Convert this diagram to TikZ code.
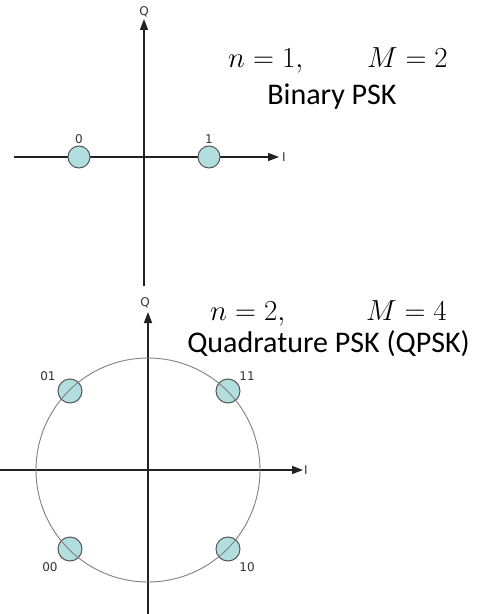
\RequirePackage{fix-cm}
\documentclass[tikz,border=0pt]{standalone}
\usepackage{fontspec}
\setmainfont{Carlito}
\newfontfamily\lblfont{DejaVu Sans}
\usetikzlibrary{arrows.meta}
\definecolor{ptfill}{HTML}{B3DEE0}
\definecolor{ptdraw}{HTML}{555555}
\definecolor{axiscol}{HTML}{222222}
\definecolor{ringcol}{HTML}{808080}
\tikzset{
  axis/.style={draw=axiscol, line width=1.4bp},
  axisarrow/.style={axis, -{Triangle[length=11bp,width=8bp]}},
  pt/.style={circle, fill=ptfill, draw=ptdraw, line width=1bp, inner sep=0pt, minimum size=#1},
  pt/.default=22bp,
  lbl/.style={font=\lblfont\fontsize{12bp}{13bp}\selectfont, text=black!80, inner sep=0pt},
  mathtxt/.style={font=\fontsize{29bp}{32bp}\selectfont, inner sep=0pt},
  titletxt/.style={font=\fontsize{30bp}{34bp}\selectfont, inner sep=0pt},
  ring/.style={draw=ringcol, line width=0.9bp}
}
\begin{document}
\begin{tikzpicture}[x=1bp,y=-1bp]
\useasboundingbox (0,0) rectangle (481,614);
% ---------- Binary PSK ----------
\coordinate (a1w) at (14,157);
\coordinate (a1e) at (279,157);
\coordinate (a1s) at (144,286);
\coordinate (a1n) at (144,19);
\draw[axisarrow] (a1w) -- (a1e);
\draw[axisarrow] (a1s) -- (a1n);
\node[lbl] (q1) at (144,12) {Q};
\node[lbl] (i1) at (284,157) {I};
\node[pt] (b0) at (79,157) {};
\node[pt] (b1) at (209,157) {};
\node[lbl] (l0) at (79,139) {0};
\node[lbl] (l1) at (209,139) {1};
\node[mathtxt, anchor=base west] (n1) at (228,68) {$n=1,$};
\node[mathtxt, anchor=base east] (m1) at (448,68) {$M=2$};
\node[titletxt, anchor=base] (t1) at (332,105) {Binary PSK};
% ---------- QPSK ----------
\coordinate (o2) at (148,470);
\coordinate (a2w) at (0,470);
\coordinate (a2e) at (303,470);
\coordinate (a2s) at (148,614);
\coordinate (a2n) at (148,312);
\draw[axisarrow] (a2w) -- (a2e);
\draw[axisarrow] (a2s) -- (a2n);
\node[lbl] (q2) at (145,303) {Q};
\node[lbl] (i2) at (306,470) {I};
\node[pt=24bp] (p01) at (70,391) {};
\node[pt=24bp] (p11) at (228,391) {};
\node[pt=24bp] (p00) at (70,549) {};
\node[pt=24bp] (p10) at (228,549) {};
\draw[ring] (o2) circle[radius=112];
\node[lbl] (l01) at (48,376) {01};
\node[lbl] (l11) at (247,376) {11};
\node[lbl] (l00) at (50,567) {00};
\node[lbl] (l10) at (247,567) {10};
\node[mathtxt, anchor=base west] (n2) at (210,320) {$n=2,$};
\node[mathtxt, anchor=base east] (m2) at (447,320) {$M=4$};
\node[titletxt, anchor=base] (t2) at (328.5,352) {Quadrature PSK (QPSK)};
\end{tikzpicture}
\end{document}
